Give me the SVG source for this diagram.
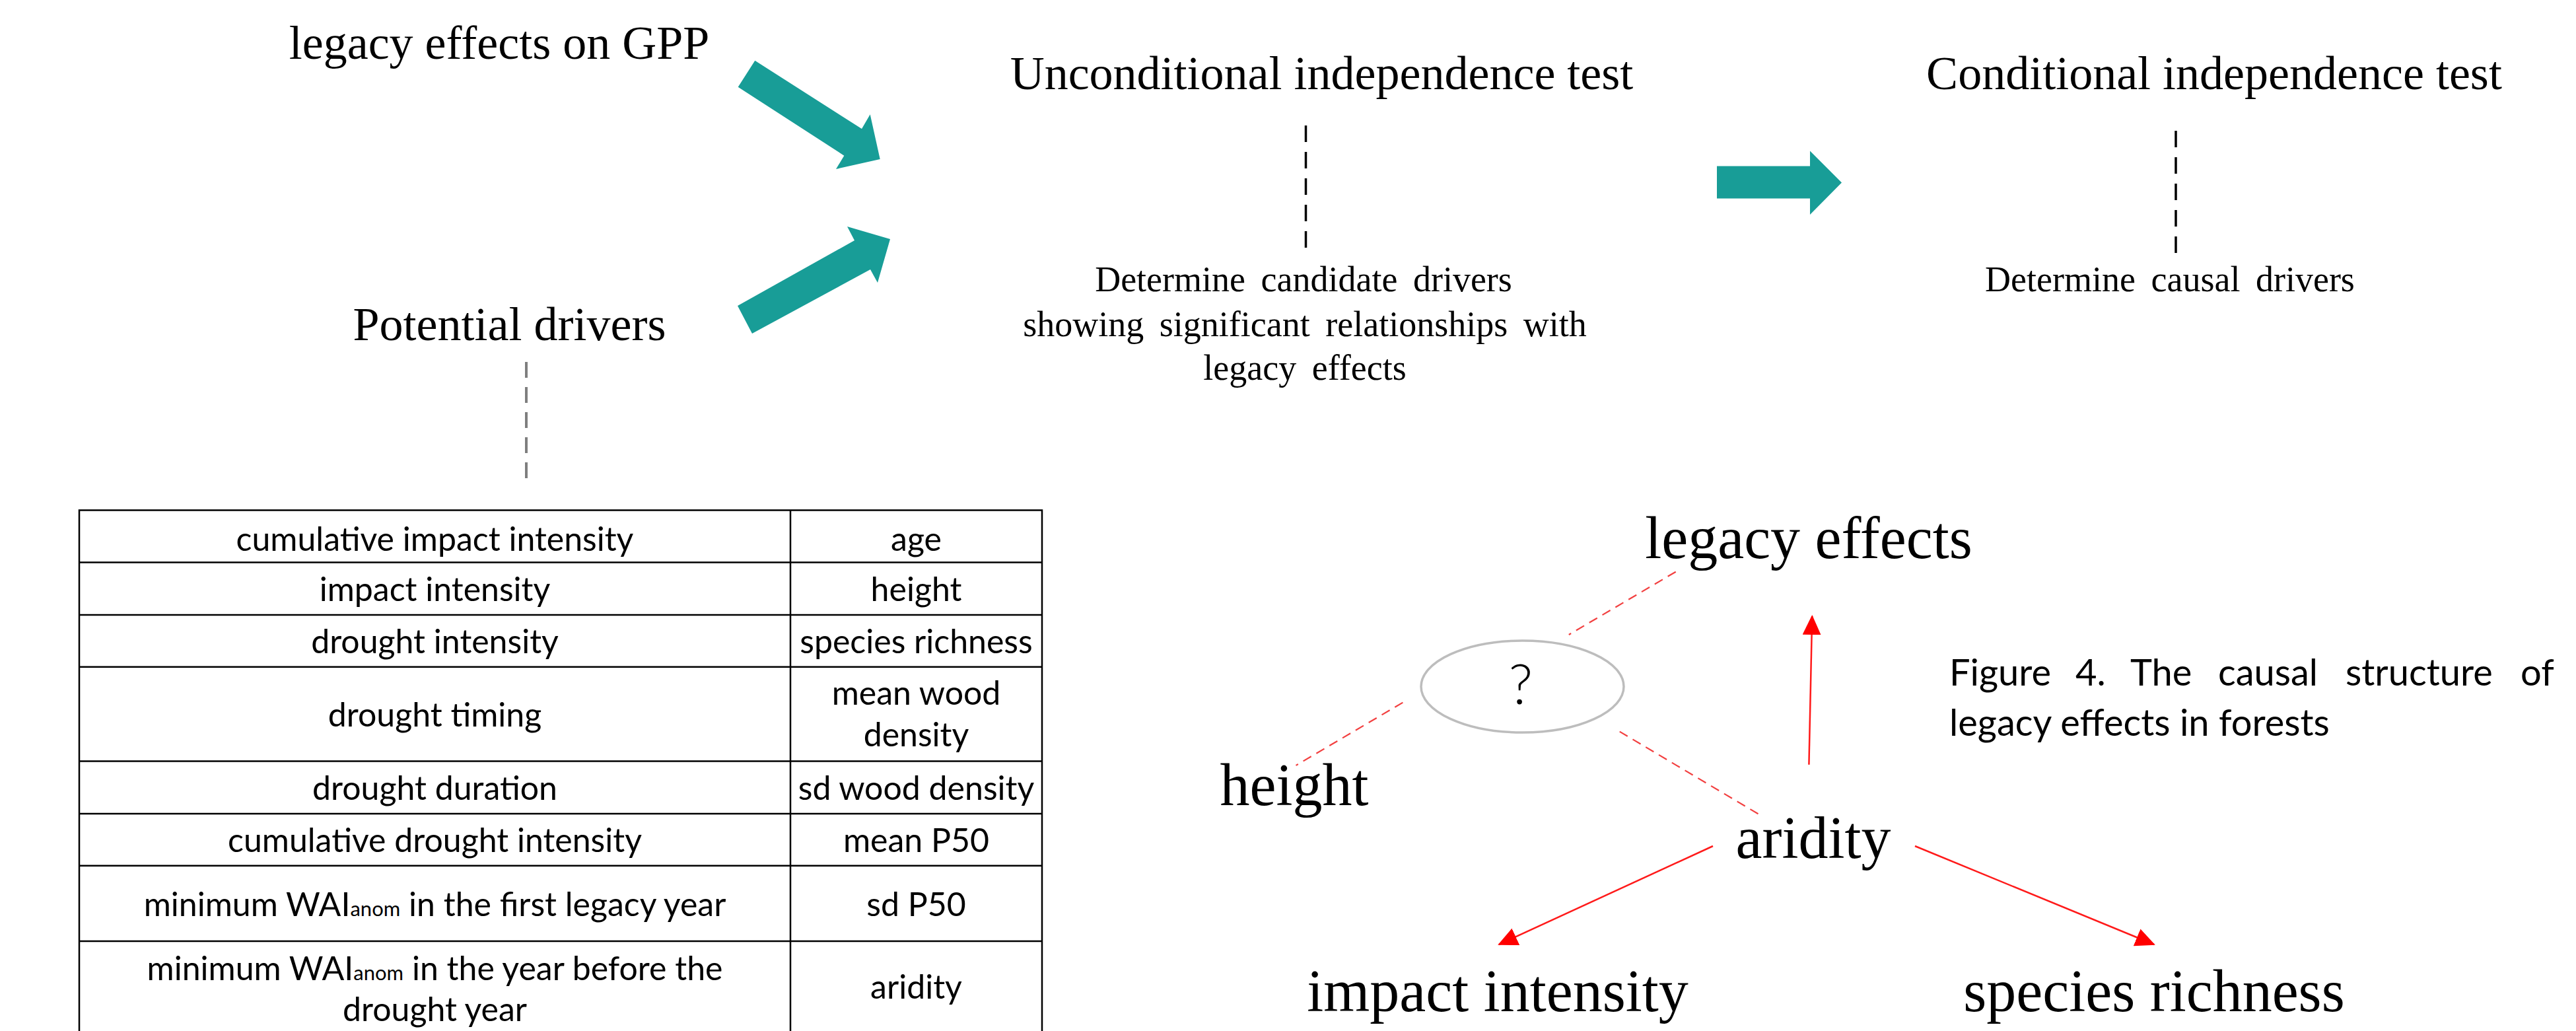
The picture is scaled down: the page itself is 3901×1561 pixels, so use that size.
<svg xmlns="http://www.w3.org/2000/svg" width="3901" height="1561" viewBox="0 0 3901 1561">
<style>
.serif{font-family:"Liberation Serif","Times New Roman",serif;fill:#000}
.t72{font-size:72px;text-anchor:middle}
.t54{font-size:54px;text-anchor:middle;word-spacing:10px}
.g90{font-size:90px;text-anchor:middle}
.sans{font-family:Lato,"Liberation Sans",sans-serif;fill:#000}
.tbl{font-size:50px;text-anchor:middle}
.sub{font-size:31px}
.cap{font-size:56px}
.grid{stroke:#000;stroke-width:2.5;fill:none}
.teal{fill:#189d97}
.vdash{stroke:#000;stroke-width:3.5;stroke-dasharray:25 15;fill:none}
.gdash{stroke:#7f7f7f;stroke-width:4;stroke-dasharray:24 14;fill:none}
.rdash{stroke:#f24040;stroke-width:2.2;stroke-dasharray:14 9;fill:none}
.rline{stroke:#ff1a1a;stroke-width:2.5;fill:none;marker-end:url(#rh)}
</style>
<defs>
<marker id="rh" viewBox="0 0 30 28" refX="28" refY="14" markerWidth="30" markerHeight="28" markerUnits="userSpaceOnUse" orient="auto">
<path d="M0,0 L30,14 L0,28 z" fill="#ff0000"/>
</marker>
</defs>
<rect width="3901" height="1561" fill="#fff"/>

<g id="connectors">
<polygon class="teal" points="1143.3,91.7 1305,195 1317.7,173.3 1332.7,241 1266,256 1278.3,235.7 1117.7,131.7"/>
<polygon class="teal" points="1117,463 1294,364 1283,343 1348,362 1329,428 1318,408 1139,505"/>
<polygon class="teal" points="2600,251.5 2741,251.5 2741,228.6 2789,276.4 2741,325 2741,300.5 2600,300.5"/>
<line class="vdash" x1="1977.5" y1="190" x2="1977.5" y2="376"/>
<line class="vdash" x1="3295" y1="198" x2="3295" y2="386"/>
<line class="gdash" x1="797" y1="548" x2="797" y2="735"/>
<line class="rdash" x1="2537.7" y1="865.7" x2="2375.8" y2="961"/>
<line class="rdash" x1="2124.4" y1="1063.6" x2="1962.5" y2="1158.9"/>
<line class="rdash" x1="2452.7" y1="1107.6" x2="2666.8" y2="1234.8"/>
<line class="rline" x1="2739.4" y1="1157.8" x2="2744.2" y2="933"/>
<line class="rline" x1="2594" y1="1281" x2="2270" y2="1430"/>
<line class="rline" x1="2900" y1="1281" x2="3262" y2="1430"/>
</g>

<g id="node-legacy-gpp"><text class="serif t72" x="756" y="89">legacy effects on GPP</text></g>
<g id="node-potential-drivers"><text class="serif t72" x="771.5" y="515">Potential drivers</text></g>
<g id="node-unconditional">
<text class="serif t72" x="2001.5" y="135">Unconditional independence test</text>
<text class="serif t54" x="1974" y="441">Determine candidate drivers</text>
<text class="serif t54" x="1976" y="509">showing significant relationships with</text>
<text class="serif t54" x="1976" y="575">legacy effects</text>
</g>
<g id="node-conditional">
<text class="serif t72" x="3353" y="135">Conditional independence test</text>
<text class="serif t54" x="3286" y="441">Determine causal drivers</text>
</g>

<g id="node-table">
<rect class="grid" x="120" y="772.5" width="1458" height="800"/>
<line class="grid" x1="1197" y1="772.5" x2="1197" y2="1561"/>
<line class="grid" x1="120" y1="851.5" x2="1578" y2="851.5"/>
<line class="grid" x1="120" y1="931" x2="1578" y2="931"/>
<line class="grid" x1="120" y1="1009.7" x2="1578" y2="1009.7"/>
<line class="grid" x1="120" y1="1152.6" x2="1578" y2="1152.6"/>
<line class="grid" x1="120" y1="1232" x2="1578" y2="1232"/>
<line class="grid" x1="120" y1="1310.7" x2="1578" y2="1310.7"/>
<line class="grid" x1="120" y1="1424.9" x2="1578" y2="1424.9"/>
<g class="sans tbl">
<text x="658.5" y="834">cumulative impact intensity</text>
<text x="658.5" y="910">impact intensity</text>
<text x="658.5" y="988.7">drought intensity</text>
<text x="658.5" y="1100">drought timing</text>
<text x="658.5" y="1211">drought duration</text>
<text x="658.5" y="1290">cumulative drought intensity</text>
<text x="658.5" y="1386.6">minimum WAI<tspan class="sub">anom</tspan> in the first legacy year</text>
<text x="658.5" y="1483.5">minimum WAI<tspan class="sub">anom</tspan> in the year before the</text>
<text x="658.5" y="1546">drought year</text>
<text x="1387.5" y="834">age</text>
<text x="1387.5" y="910">height</text>
<text x="1387.5" y="988.7">species richness</text>
<text x="1387.5" y="1067">mean wood</text>
<text x="1387.5" y="1130">density</text>
<text x="1387.5" y="1211">sd wood density</text>
<text x="1387.5" y="1290">mean P50</text>
<text x="1387.5" y="1386.6">sd P50</text>
<text x="1387.5" y="1512">aridity</text>
</g>
</g>

<g id="node-legacy-effects"><text class="serif g90" x="2739" y="845">legacy effects</text></g>
<g id="node-unknown">
<ellipse cx="2305.5" cy="1039.5" rx="153.5" ry="69.5" fill="#fff" stroke="#bdbdbd" stroke-width="3.5"/>
<text class="sans" x="2303" y="1066" font-size="84" font-weight="300" text-anchor="middle">?</text>
</g>
<g id="node-height"><text class="serif g90" x="1960" y="1219">height</text></g>
<g id="node-aridity"><text class="serif g90" x="2746" y="1299">aridity</text></g>
<g id="node-impact-intensity"><text class="serif g90" x="2268" y="1531">impact intensity</text></g>
<g id="node-species-richness"><text class="serif g90" x="3262" y="1531">species richness</text></g>

<g id="caption" class="sans cap">
<text y="1038"><tspan x="2952">Figure</tspan><tspan x="3143">4.</tspan><tspan x="3226">The</tspan><tspan x="3359">causal</tspan><tspan x="3552">structure</tspan><tspan x="3817">of</tspan></text>
<text x="2952" y="1114">legacy effects in forests</text>
</g>
</svg>
